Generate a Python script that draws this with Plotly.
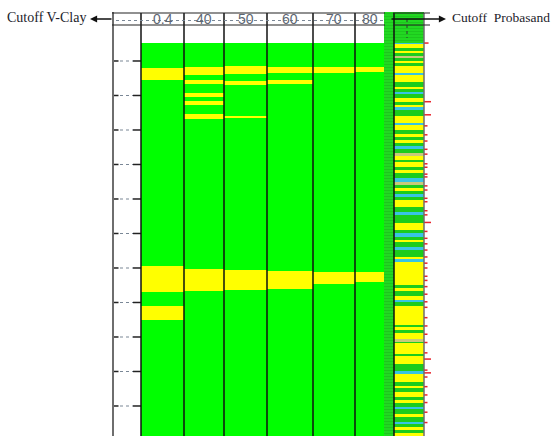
import plotly.graph_objects as go

# ---------------- data ----------------
cutoff_labels = ["0.4", "40", "50", "60", "70", "80"]
log_top = 1497.4      # top of the interpreted interval (m)
log_base = 1555.0     # bottom of the displayed interval (m)

# sand intervals (top, base) in metres for each V-Clay cutoff
sand_04 = [(1501.0, 1502.8), (1529.7, 1533.5), (1535.5, 1537.6)]
sand_40 = [(1500.8, 1502.1), (1502.7, 1503.4), (1504.7, 1505.2),
           (1505.8, 1506.4), (1507.7, 1508.4), (1530.1, 1533.3)]
sand_50 = [(1500.7, 1501.9), (1502.9, 1503.5), (1507.9, 1508.2), (1530.3, 1533.2)]
sand_60 = [(1500.9, 1501.8), (1502.8, 1503.3), (1530.4, 1533.0)]
sand_70 = [(1500.9, 1501.8), (1530.6, 1532.3)]
sand_80 = [(1500.9, 1501.6), (1530.6, 1532.0)]
sand_by_cutoff = [sand_04, sand_40, sand_50, sand_60, sand_70, sand_80]

# probabilistic sand column: layer tops (m) and facies code
# G = shale/green, Y = sand, C = cyan, K = khaki
probasand_tops = [
    1497.4, 1497.5, 1498.1, 1498.5, 1498.9, 1499.3, 1499.6, 1500.0, 1500.3, 1500.7,
    1501.8, 1502.0, 1503.1, 1503.7, 1504.1, 1504.5, 1504.8, 1505.4, 1505.9, 1506.4,
    1506.7, 1507.1, 1508.0, 1509.0, 1509.3, 1510.0, 1510.6, 1511.0, 1511.4, 1511.9,
    1512.3, 1512.8, 1513.3, 1513.8, 1514.3, 1514.7, 1515.3, 1515.8, 1516.2, 1517.0,
    1517.5, 1518.0, 1518.4, 1518.8, 1519.3, 1519.7, 1520.1, 1521.2, 1521.9, 1522.3,
    1523.5, 1524.5, 1525.0, 1525.5, 1525.9, 1526.3, 1527.0, 1527.4, 1528.4, 1528.7,
    1529.1, 1532.5, 1532.9, 1533.4, 1534.1, 1534.6, 1534.9, 1535.5, 1538.3, 1538.6,
    1539.0, 1539.4, 1540.3, 1540.7, 1540.9, 1542.5, 1542.8, 1543.9, 1545.0, 1545.3,
    1546.5, 1547.1, 1547.4, 1547.9, 1548.7, 1549.1, 1549.6, 1550.2, 1550.5, 1551.1,
    1551.6, 1552.3, 1552.6, 1553.0, 1553.5, 1553.9,
]
probasand_facies = list(
    "CYGYGKGYGY"
    "CYGYGCGYGY"
    "CGYCYGYGYG"
    "CGKYGYGYGC"
    "KGYGCGYGCG"
    "YGCGYGCGYC"
    "YGYGYCGYGY"
    "GYKGYGYGCY"
    "GYGYGYGCGY"
    "GCGYGY"
)

# probasand flag depths (m) and their relative strength
flag_depths = [1497.4, 1505.9, 1507.8, 1509.4, 1510.7, 1511.6, 1512.8, 1513.5, 1514.9,
               1515.4, 1516.4, 1516.8, 1518.1, 1518.7, 1519.9, 1520.4, 1521.7, 1522.3,
               1523.4, 1524.7, 1525.7, 1526.5, 1527.4, 1528.4, 1529.3, 1530.0, 1531.2,
               1531.8, 1532.7, 1533.8, 1534.9, 1535.7, 1537.2, 1538.4, 1539.6, 1540.8,
               1542.3, 1543.2, 1544.8, 1545.2, 1545.8, 1547.2, 1548.4, 1549.5, 1550.9,
               1552.4]
flag_strength = [1.3, 2, 2, 1, 1, 1, 1, 1, 1,
                 1, 1, 1, 1, 1, 1, 1, 1, 1,
                 2, 1, 1, 1, 1, 1, 1, 1, 1,
                 1, 1, 1, 1, 1, 1, 1, 1, 1,
                 1, 2, 1, 2, 1, 1, 1, 1, 1,
                 1]

depth_ticks = list(range(1500, 1551, 5))

# ---------------- layout geometry ----------------
W, H = 553, 436
depth_view = (1491.16, 1554.35)      # depth at top / bottom of the frame
track_left, track_right = 113, 141   # depth track
col_edges = [141, 184, 224, 267, 313, 355, 384]
gr_col = (384, 394)
psand_col = (394, 424)
header_top_row, header_bot_row, label_row = 13, 25, 20.5

GREEN = "#00FF00"
YELLOW = "#FFFF00"
facies_colors = {"G": "#1CCC1C", "Y": "#FFFF00", "C": "#38C4E4", "K": "#C9C97A"}


def row(px):
    """Convert a row of the frame (from the top) to paper fraction."""
    return 1 - px / H


def depth_of_row(px):
    return depth_view[0] + (depth_view[1] - depth_view[0]) * px / H


fig = go.Figure()

# cutoff columns: green background with yellow sand bars
for i, intervals in enumerate(sand_by_cutoff):
    x0, x1 = col_edges[i], col_edges[i + 1]
    xc, w = (x0 + x1) / 2, x1 - x0
    fig.add_trace(go.Bar(x=[xc], width=[w], base=[log_top], y=[log_base - log_top],
                         marker=dict(color=GREEN, line=dict(width=0)),
                         hoverinfo="skip"))
    tops = [a for a, b in intervals]
    thick = [b - a for a, b in intervals]
    fig.add_trace(go.Bar(x=[xc] * len(tops), width=[w] * len(tops), base=tops, y=thick,
                         marker=dict(color=YELLOW, line=dict(width=0)),
                         name=f"Cutoff {cutoff_labels[i]}"))

# textured green column and the top of the probasand column
frame_top = depth_of_row(12)
fig.add_trace(go.Bar(x=[(gr_col[0] + gr_col[1]) / 2], width=[gr_col[1] - gr_col[0]],
                     base=[frame_top], y=[log_base - frame_top],
                     marker=dict(color="#1FD41F", line=dict(width=0),
                                 pattern=dict(shape="-", fgcolor="#14A814", size=3,
                                              solidity=0.25, bgcolor="#22D822")),
                     hoverinfo="skip"))
fig.add_trace(go.Bar(x=[(psand_col[0] + psand_col[1]) / 2], width=[psand_col[1] - psand_col[0]],
                     base=[frame_top], y=[log_top - frame_top],
                     marker=dict(color="#1FD41F", line=dict(width=0),
                                 pattern=dict(shape="-", fgcolor="#14A814", size=3,
                                              solidity=0.25, bgcolor="#22D822")),
                     hoverinfo="skip"))

# probasand facies column
bottoms = probasand_tops[1:] + [log_base]
pc, pw = (psand_col[0] + psand_col[1]) / 2, psand_col[1] - psand_col[0]
for code, color in facies_colors.items():
    tops = [t for t, f in zip(probasand_tops, probasand_facies) if f == code]
    thick = [b - t for t, b, f in zip(probasand_tops, bottoms, probasand_facies) if f == code]
    fig.add_trace(go.Bar(x=[pc] * len(tops), width=[pw] * len(tops), base=tops, y=thick,
                         marker=dict(color=color, line=dict(width=0)),
                         hoverinfo="skip"))

# red probasand flags on the right edge of the column
fx, fy = [], []
for d, s in zip(flag_depths, flag_strength):
    fx += [psand_col[1], psand_col[1] + 3.5 * s, None]
    fy += [d, d, None]
fig.add_trace(go.Scatter(x=fx, y=fy, mode="lines",
                         line=dict(color="#E8232B", width=1.5), hoverinfo="skip"))

# depth ticks in the depth track
tx_black, ty_black, tx_dot, ty_dot = [], [], [], []
for d in depth_ticks:
    tx_black += [track_left, track_left + 5.5, None, track_right - 8, track_right, None]
    ty_black += [d, d, None, d, d, None]
    tx_dot += [track_left + 7, track_right - 8, None]
    ty_dot += [d, d, None]
fig.add_trace(go.Scatter(x=tx_black, y=ty_black, mode="lines",
                         line=dict(color="#222222", width=1.5), hoverinfo="skip"))
fig.add_trace(go.Scatter(x=tx_dot, y=ty_dot, mode="lines",
                         line=dict(color="#7A8796", width=1.2, dash="dot"), hoverinfo="skip"))

shapes = []
# column borders
shapes.append(dict(type="line", xref="x", yref="paper", x0=track_left, x1=track_left,
                   y0=row(12), y1=0, line=dict(color="#6E6E6E", width=2)))
for x in col_edges[:-1]:
    shapes.append(dict(type="line", xref="x", yref="paper", x0=x, x1=x,
                       y0=row(header_top_row), y1=0, line=dict(color="#111111", width=1.5)))
shapes.append(dict(type="line", xref="x", yref="paper", x0=psand_col[0], x1=psand_col[0],
                   y0=row(header_top_row), y1=0, line=dict(color="#111111", width=1.5)))
shapes.append(dict(type="line", xref="x", yref="paper", x0=psand_col[1], x1=psand_col[1],
                   y0=row(header_top_row), y1=0, line=dict(color="#6E6E6E", width=1.5)))
# header rules
for r in (header_top_row, header_bot_row):
    shapes.append(dict(type="line", xref="x", yref="paper", x0=112, x1=385,
                       y0=row(r), y1=row(r), line=dict(color="#222222", width=1.2)))
    shapes.append(dict(type="line", xref="x", yref="paper", x0=393, x1=430,
                       y0=row(r), y1=row(r), line=dict(color="#222222", width=1.2)))
# dotted label line in the header
shapes.append(dict(type="line", xref="x", yref="paper", x0=116, x1=383,
                   y0=row(label_row), y1=row(label_row),
                   line=dict(color="#7A8796", width=1.2, dash="dot")))
shapes.append(dict(type="line", xref="x", yref="paper", x0=407, x1=407,
                   y0=row(19), y1=row(38), line=dict(color="#333333", width=1, dash="dot")))

annotations = []
for i, lab in enumerate(cutoff_labels):
    xc = (col_edges[i] + col_edges[i + 1]) / 2
    annotations.append(dict(x=xc, y=row(19), xref="x", yref="paper", text=lab,
                            showarrow=False, xanchor="center", yanchor="middle",
                            font=dict(family="Liberation Sans, Arial", size=14, color="#5E6773")))
# arrows and titles
annotations.append(dict(x=90, y=row(19), xref="x", yref="paper", ax=23, ay=0, text="",
                        showarrow=True, arrowhead=2, arrowsize=1.1, arrowwidth=1.3,
                        arrowcolor="#111111"))
annotations.append(dict(x=446, y=row(19), xref="x", yref="paper", ax=-56, ay=0, text="",
                        showarrow=True, arrowhead=2, arrowsize=1.1, arrowwidth=1.3,
                        arrowcolor="#111111"))
annotations.append(dict(x=88, y=row(17), xref="x", yref="paper", text="Cutoff V-Clay",
                        showarrow=False, xanchor="right", yanchor="middle",
                        font=dict(family="Liberation Serif, Times New Roman", size=14,
                                  color="#1C1C2A")))
annotations.append(dict(x=450, y=row(17), xref="x", yref="paper", text="Cutoff  Probasand",
                        showarrow=False, xanchor="left", yanchor="middle",
                        font=dict(family="Liberation Serif, Times New Roman", size=13.5,
                                  color="#1C1C2A")))

fig.update_layout(
    width=W, height=H,
    margin=dict(l=0, r=0, t=0, b=0),
    paper_bgcolor="white", plot_bgcolor="white",
    barmode="overlay", bargap=0, showlegend=False,
    xaxis=dict(range=[0, W], visible=False, fixedrange=True),
    yaxis=dict(range=[depth_view[1], depth_view[0]], visible=False, fixedrange=True),
    shapes=shapes, annotations=annotations,
)

fig.write_html("out.html")
